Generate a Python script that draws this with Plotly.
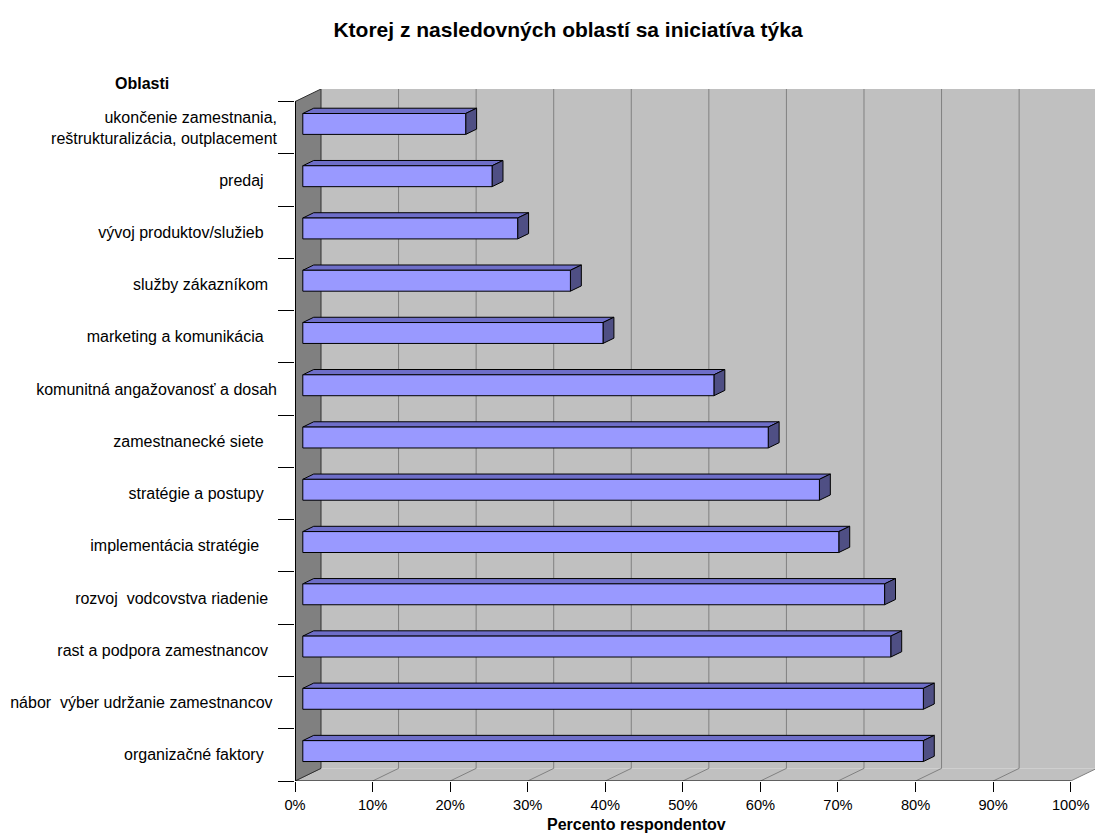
import plotly.graph_objects as go

# ---------------- data ----------------
title_text = "Ktorej z nasledovných oblastí sa iniciatíva týka"
y_title = "Oblasti"
x_title = "Percento respondentov"

# categories listed top -> bottom (trailing spaces as in the source labels)
categories = [
    "ukončenie zamestnania,<br>reštrukturalizácia, outplacement",
    "predaj   ",
    "vývoj produktov/služieb   ",
    "služby zákazníkom  ",
    "marketing a komunikácia   ",
    "komunitná angažovanosť a dosah",
    "zamestnanecké siete   ",
    "stratégie a postupy   ",
    "implementácia stratégie    ",
    "rozvoj  vodcovstva riadenie  ",
    "rast a podpora zamestnancov  ",
    "nábor  výber udržanie zamestnancov ",
    "organizačné faktory   ",
]
values = [21.0, 24.4, 27.7, 34.5, 38.7, 53.0, 60.0, 66.6, 69.1, 75.0, 75.8, 80.0, 80.0]

tick_vals = [0, 10, 20, 30, 40, 50, 60, 70, 80, 90, 100]
tick_labels = ["0%", "10%", "20%", "30%", "40%", "50%", "60%", "70%", "80%", "90%", "100%"]

# ---------------- geometry of the oblique 3-D look ----------------
W, H_PX = 1095, 834
ML, MR, MT, MB = 295, 0, 89, 53
n = len(categories)
XMAX = 100.0
px_per_pct = 775.7 / XMAX
DX = 26.0 / px_per_pct          # depth shift in x (percent units)
DY = 0.241                      # depth shift in y (category units)
D0, DD, BH = 0.30, 0.42, 0.40   # bar front depth, bar depth, bar height
x_range = [0, (W - ML - MR) / px_per_pct]
y_range = [0, n + DY]

FONT = "Liberation Sans, Arial, sans-serif"
WALL = "#c0c0c0"
SIDEWALL = "#808080"
GRID = "#808080"
FRONT = "#9999ff"
TOP = "#6e6ec8"
SIDE = "#4f4f84"
EDGE = "#000000"

fig = go.Figure()


def poly(xs, ys, fill, line_color=None, lw=0.0):
    fig.add_trace(go.Scatter(
        x=list(xs) + [xs[0]], y=list(ys) + [ys[0]], mode="lines",
        fill="toself", fillcolor=fill,
        line=dict(color=line_color or fill, width=lw),
        hoverinfo="skip", showlegend=False))


def lines(xs, ys, color, width):
    fig.add_trace(go.Scatter(x=xs, y=ys, mode="lines",
                             line=dict(color=color, width=width),
                             hoverinfo="skip", showlegend=False))


# back wall
poly([DX, XMAX + DX, XMAX + DX, DX], [DY, DY, n + DY, n + DY], WALL)
# floor
poly([0, DX, XMAX + DX, XMAX], [0, DY, DY, 0], WALL)

# gridlines on back wall and floor
gx, gy = [], []
for t in tick_vals:
    if 0 < t < XMAX:
        gx += [t + DX, t + DX, None]
        gy += [DY, n + DY, None]
    gx += [t, t + DX, None]
    gy += [0, DY, None]
lines(gx, gy, GRID, 1)

# left side wall
poly([0, DX, DX, 0], [0, DY, n + DY, n], SIDEWALL, "#303030", 1)
# front edges
lines([0, XMAX], [0, 0], EDGE, 1)
lines([0, 0], [0, n], EDGE, 2)

# bars
for idx, v in enumerate(values):
    pos = n - 1 - idx + 0.5
    yc = pos + D0 * DY
    y0, y1 = yc - BH / 2, yc + BH / 2
    x0, x1 = D0 * DX, v + D0 * DX
    ex, ey = DD * DX, DD * DY
    poly([x0, x1, x1 + ex, x0 + ex], [y1, y1, y1 + ey, y1 + ey], TOP, EDGE, 1)
    poly([x1, x1 + ex, x1 + ex, x1], [y0, y0 + ey, y1 + ey, y1], SIDE, EDGE, 1)
    poly([x0, x1, x1, x0], [y0, y0, y1, y1], FRONT, EDGE, 1)

cat_pos = [n - 1 - i + 0.5 for i in range(n)]
cat_text = [c.replace(" ", "\u00a0") for c in categories]

fig.update_layout(
    width=W, height=H_PX,
    margin=dict(l=ML, r=MR, t=MT, b=MB, pad=0),
    paper_bgcolor="white", plot_bgcolor="white",
    showlegend=False,
    font=dict(family=FONT, color="black"),
    title=dict(text="<b>" + title_text + "</b>", font=dict(family=FONT, size=21, color="black"),
               x=568 / W, xref="container", xanchor="center",
               y=1 - 30 / H_PX, yref="container", yanchor="middle"),
    xaxis=dict(range=x_range, showgrid=False, zeroline=False, showline=False,
               tickmode="array", tickvals=tick_vals, ticktext=tick_labels,
               ticks="outside", ticklen=10, tickwidth=1, tickcolor="black",
               tickfont=dict(family=FONT, size=14.67, color="black")),
    yaxis=dict(range=y_range, showgrid=False, zeroline=False, showline=False,
               tickmode="array", tickvals=cat_pos, ticktext=cat_text,
               ticks="", ticklabelstandoff=17,
               tickfont=dict(family=FONT, size=16, color="black"),
               minor=dict(tickmode="array", tickvals=list(range(0, n + 1)),
                          ticks="outside", ticklen=16, tickwidth=1, tickcolor="black")),
    annotations=[
        dict(text="<b>" + y_title + "</b>", xref="paper", yref="paper",
             x=(141.7 - ML) / (W - ML - MR), y=(H_PX - 83.3 - MB) / (H_PX - MT - MB),
             xanchor="center", yanchor="middle", showarrow=False,
             font=dict(family=FONT, size=16, color="black")),
        dict(text="<b>" + x_title + "</b>", xref="paper", yref="paper",
             x=(636 - ML) / (W - ML - MR), y=(H_PX - 824 - MB) / (H_PX - MT - MB),
             xanchor="center", yanchor="middle", showarrow=False,
             font=dict(family=FONT, size=16, color="black")),
    ],
)

fig.write_html("out.html")
